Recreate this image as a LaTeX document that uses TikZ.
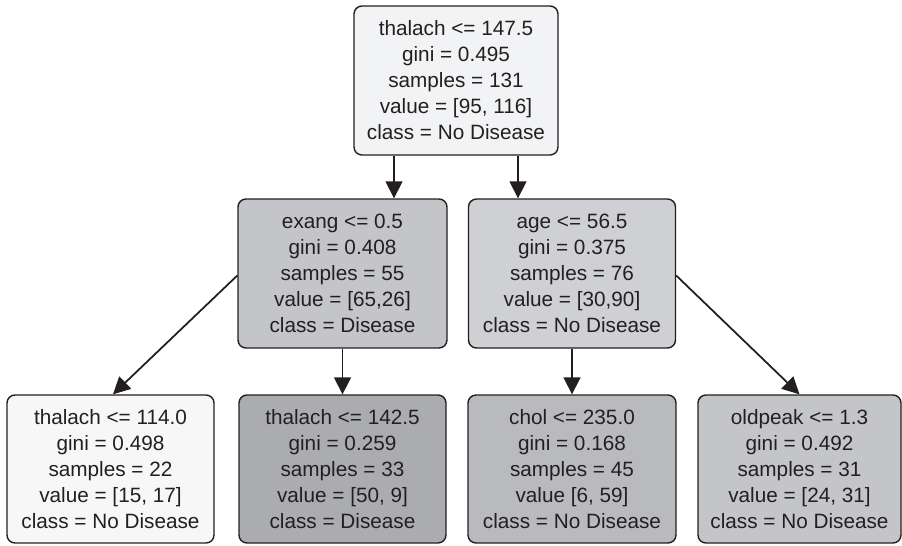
\documentclass[tikz,border=0pt]{standalone}
\usepackage{fontspec}
\setmainfont{Liberation Sans}
\usetikzlibrary{arrows.meta,positioning}
\definecolor{inkdark}{HTML}{231F20}
\definecolor{rootfill}{HTML}{F1F3F4}
\definecolor{exangfill}{HTML}{C4C5C8}
\definecolor{agefill}{HTML}{CFD0D3}
\definecolor{leafafill}{HTML}{F7F7F8}
\definecolor{leafbfill}{HTML}{ABACB0}
\definecolor{leafcfill}{HTML}{B9BABE}
\definecolor{leafdfill}{HTML}{C4C5C8}

\begin{document}
\begin{tikzpicture}[
    every node/.style={font=\fontsize{11.8}{14.8}\selectfont, text=inkdark},
    split/.style={draw=inkdark, line width=0.8pt, rounded corners=0.16cm, align=center, minimum height=2.96cm, minimum width=4.14cm, inner sep=0pt},
    flow/.style={-{Triangle[length=0.34cm, width=0.34cm]}, line width=1pt, draw=inkdark}
]
\useasboundingbox (0,0) rectangle (18.04,-10.9);
\node[split, fill=rootfill, minimum width=4.08cm, minimum height=2.98cm] (root) at (9.12,-1.61) {thalach <= 147.5\\gini = 0.495\\samples = 131\\value = [95, 116]\\class = No Disease};
\node[split, fill=exangfill, minimum width=4.18cm, minimum height=2.98cm] (exang) at (6.85,-5.47) {exang <= 0.5\\gini = 0.408\\samples = 55\\value = [65,26]\\class = Disease};
\node[split, fill=agefill, minimum height=2.98cm] (age) at (11.44,-5.47) {age <= 56.5\\gini = 0.375\\samples = 76\\value = [30,90]\\class = No Disease};
\node[split, fill=leafafill] (thalachlow) at (2.21,-9.38) {thalach <= 114.0\\gini = 0.498\\samples = 22\\value = [15, 17]\\class = No Disease};
\node[split, fill=leafbfill] (thalachmid) at (6.85,-9.38) {thalach <= 142.5\\gini = 0.259\\samples = 33\\value = [50, 9]\\class = Disease};
\node[split, fill=leafcfill, minimum width=4.16cm] (chol) at (11.44,-9.38) {chol <= 235.0\\gini = 0.168\\samples = 45\\value [6, 59]\\class = No Disease};
\node[split, fill=leafdfill, minimum width=4.06cm] (oldpeak) at (15.99,-9.38) {oldpeak <= 1.3\\gini = 0.492\\samples = 31\\value = [24, 31]\\class = No Disease};
\draw[flow] ([xshift=-1.24cm]root.south) -- ([xshift=-1.24cm]root.south |- exang.north);
\draw[flow] ([xshift=1.24cm]root.south) -- ([xshift=1.24cm]root.south |- age.north);
\draw[flow] ([yshift=-0.04cm]exang.west) -- ([xshift=0.05cm]thalachlow.north);
\draw[flow] (exang.south) -- (thalachmid.north);
\draw[flow] ([yshift=-0.04cm]age.east) -- (oldpeak.north);
\draw[flow] (age.south) -- (chol.north);
\end{tikzpicture}
\end{document}
